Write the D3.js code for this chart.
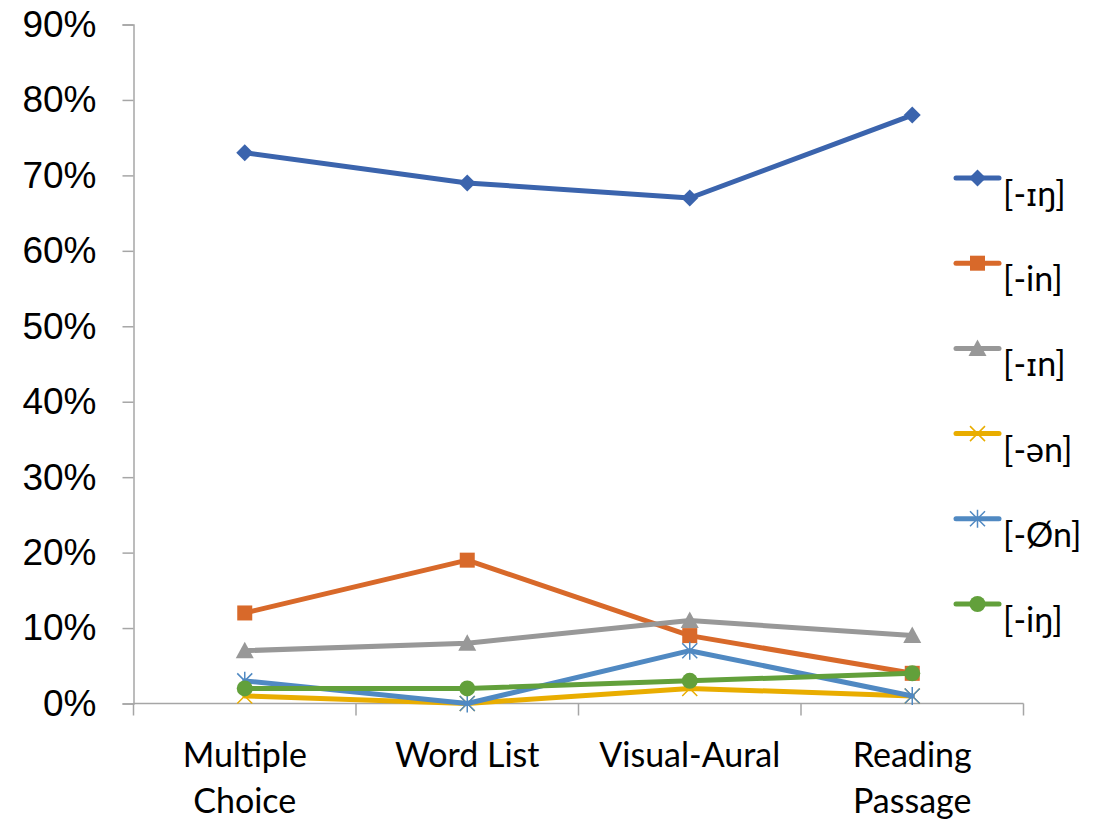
<!DOCTYPE html>
<html>
<head>
<meta charset="utf-8">
<script src="https://cdn.jsdelivr.net/npm/d3@7"></script>
<style>
  html, body { margin: 0; padding: 0; background: #fff; }
  svg { display: block; }
</style>
</head>
<body>
<svg id="chart" width="1099" height="820"></svg>
<script>
// Categories along the x axis (two-line labels)
const categories = ["Multiple Choice", "Word List", "Visual-Aural", "Reading Passage"];
const categoryLines = [["Multiple", "Choice"], ["Word List"], ["Visual-Aural"], ["Reading", "Passage"]];

// Series names and percentages per category
const seriesNames = ["[-ɪŋ]", "[-in]", "[-ɪn]", "[-ən]", "[-Øn]", "[-iŋ]"];
const valsIng   = [73, 69, 67, 78];
const valsIn    = [12, 19, 9, 4];
const valsIhn   = [7, 8, 11, 9];
const valsSchwa = [1, 0, 2, 1];
const valsZero  = [3, 0, 7, 1];
const valsIing  = [2, 2, 3, 4];
const seriesValues = [valsIng, valsIn, valsIhn, valsSchwa, valsZero, valsIing];

const seriesColors = ["#3B64AD", "#D8692A", "#989898", "#E9AD00", "#5089C2", "#62A03B"];
const seriesMarkers = ["diamond", "square", "triangle", "x", "star", "circle"];

// Y axis ticks in percent
const yTicks = [0, 10, 20, 30, 40, 50, 60, 70, 80, 90];

const svg = d3.select("#chart");
const plot = { left: 133.5, right: 1023.5, top: 24.5, bottom: 703.5 };

const x = d3.scaleBand().domain(categories).range([plot.left, plot.right]);
const y = d3.scaleLinear().domain([0, 90]).range([plot.bottom, plot.top]);
const xc = c => x(c) + x.bandwidth() / 2;

const axisColor = "#A6A6A6";

// Y axis
const yAxis = d3.axisLeft(y).tickValues(yTicks).tickSize(11).tickPadding(26)
  .tickFormat(d => d + "%");
const gy = svg.append("g").attr("transform", `translate(${plot.left},0)`).call(yAxis);
gy.select(".domain").attr("stroke", axisColor).attr("stroke-width", 1.5);
gy.selectAll(".tick line").attr("stroke", axisColor).attr("stroke-width", 1.5);
gy.selectAll(".tick text").attr("fill", "#000")
  .style("font-family", "'Liberation Sans', Arial, sans-serif")
  .style("font-size", "37px");

// X axis line with tick marks at band edges
svg.append("line")
  .attr("x1", plot.left).attr("x2", plot.right)
  .attr("y1", plot.bottom).attr("y2", plot.bottom)
  .attr("stroke", axisColor).attr("stroke-width", 1.5);
const edges = categories.map(c => x(c)).concat([plot.right]);
svg.append("g").selectAll("line").data(edges).join("line")
  .attr("x1", d => d).attr("x2", d => d)
  .attr("y1", plot.bottom).attr("y2", plot.bottom + 12)
  .attr("stroke", axisColor).attr("stroke-width", 1.5);

// Category labels
const labelFont = "Lato, 'Open Sans', 'DejaVu Sans', sans-serif";
const xl = svg.append("g").selectAll("text").data(categories).join("text")
  .attr("x", d => xc(d))
  .attr("text-anchor", "middle")
  .style("font-family", labelFont)
  .style("font-size", "34px")
  .attr("fill", "#000");
xl.each(function(d, i) {
  const lines = categoryLines[i];
  d3.select(this).selectAll("tspan").data(lines).join("tspan")
    .attr("x", xc(d))
    .attr("y", (l, j) => 767 + j * 46)
    .text(l => l);
});

// Marker drawing
function drawMarker(g, type, color, cx, cy) {
  const s = 7.5;
  if (type === "diamond") {
    g.append("path").attr("d", `M${cx},${cy - 8.5}L${cx + 8.5},${cy}L${cx},${cy + 8.5}L${cx - 8.5},${cy}Z`)
      .attr("fill", color);
  } else if (type === "square") {
    g.append("rect").attr("x", cx - s).attr("y", cy - s).attr("width", 2 * s).attr("height", 2 * s)
      .attr("fill", color);
  } else if (type === "triangle") {
    g.append("path").attr("d", `M${cx},${cy - 9}L${cx + 9},${cy + 7.5}L${cx - 9},${cy + 7.5}Z`)
      .attr("fill", color);
  } else if (type === "circle") {
    g.append("circle").attr("cx", cx).attr("cy", cy).attr("r", 8).attr("fill", color);
  } else if (type === "x") {
    g.append("path").attr("d", `M${cx - s},${cy - s}L${cx + s},${cy + s}M${cx - s},${cy + s}L${cx + s},${cy - s}`)
      .attr("stroke", color).attr("stroke-width", 1.5).attr("fill", "none");
  } else if (type === "star") {
    g.append("path").attr("d", `M${cx - s},${cy - s}L${cx + s},${cy + s}M${cx - s},${cy + s}L${cx + s},${cy - s}M${cx},${cy - 9}L${cx},${cy + 9}`)
      .attr("stroke", color).attr("stroke-width", 1.5).attr("fill", "none");
  }
}

// Series lines and markers
const line = d3.line().x((v, i) => xc(categories[i])).y(v => y(v));
seriesValues.forEach((vals, si) => {
  const g = svg.append("g");
  g.append("path").datum(vals).attr("d", line)
    .attr("fill", "none").attr("stroke", seriesColors[si])
    .attr("stroke-width", 5).attr("stroke-linejoin", "round").attr("stroke-linecap", "round");
  vals.forEach((v, i) => drawMarker(g, seriesMarkers[si], seriesColors[si], xc(categories[i]), y(v)));
});

// Legend; small-capital ɪ is set in DejaVu Sans so it keeps its serifs
const legendTop = 178, legendStep = 85.2;
seriesNames.forEach((name, si) => {
  const ly = legendTop + si * legendStep;
  const g = svg.append("g");
  g.append("line").attr("x1", 956).attr("x2", 999).attr("y1", ly).attr("y2", ly)
    .attr("stroke", seriesColors[si]).attr("stroke-width", 5).attr("stroke-linecap", "round");
  drawMarker(g, seriesMarkers[si], seriesColors[si], 977.5, ly);
  const t = g.append("text").attr("x", 1003).attr("y", ly + 28)
    .style("font-family", labelFont).style("font-size", "34px").attr("fill", "#000");
  name.split(/(ɪ)/).filter(p => p.length).forEach(p => {
    const ts = t.append("tspan").text(p);
    if (p === "ɪ") ts.style("font-family", "'DejaVu Sans', sans-serif").style("font-size", "30px");
  });
});
</script>
</body>
</html>
